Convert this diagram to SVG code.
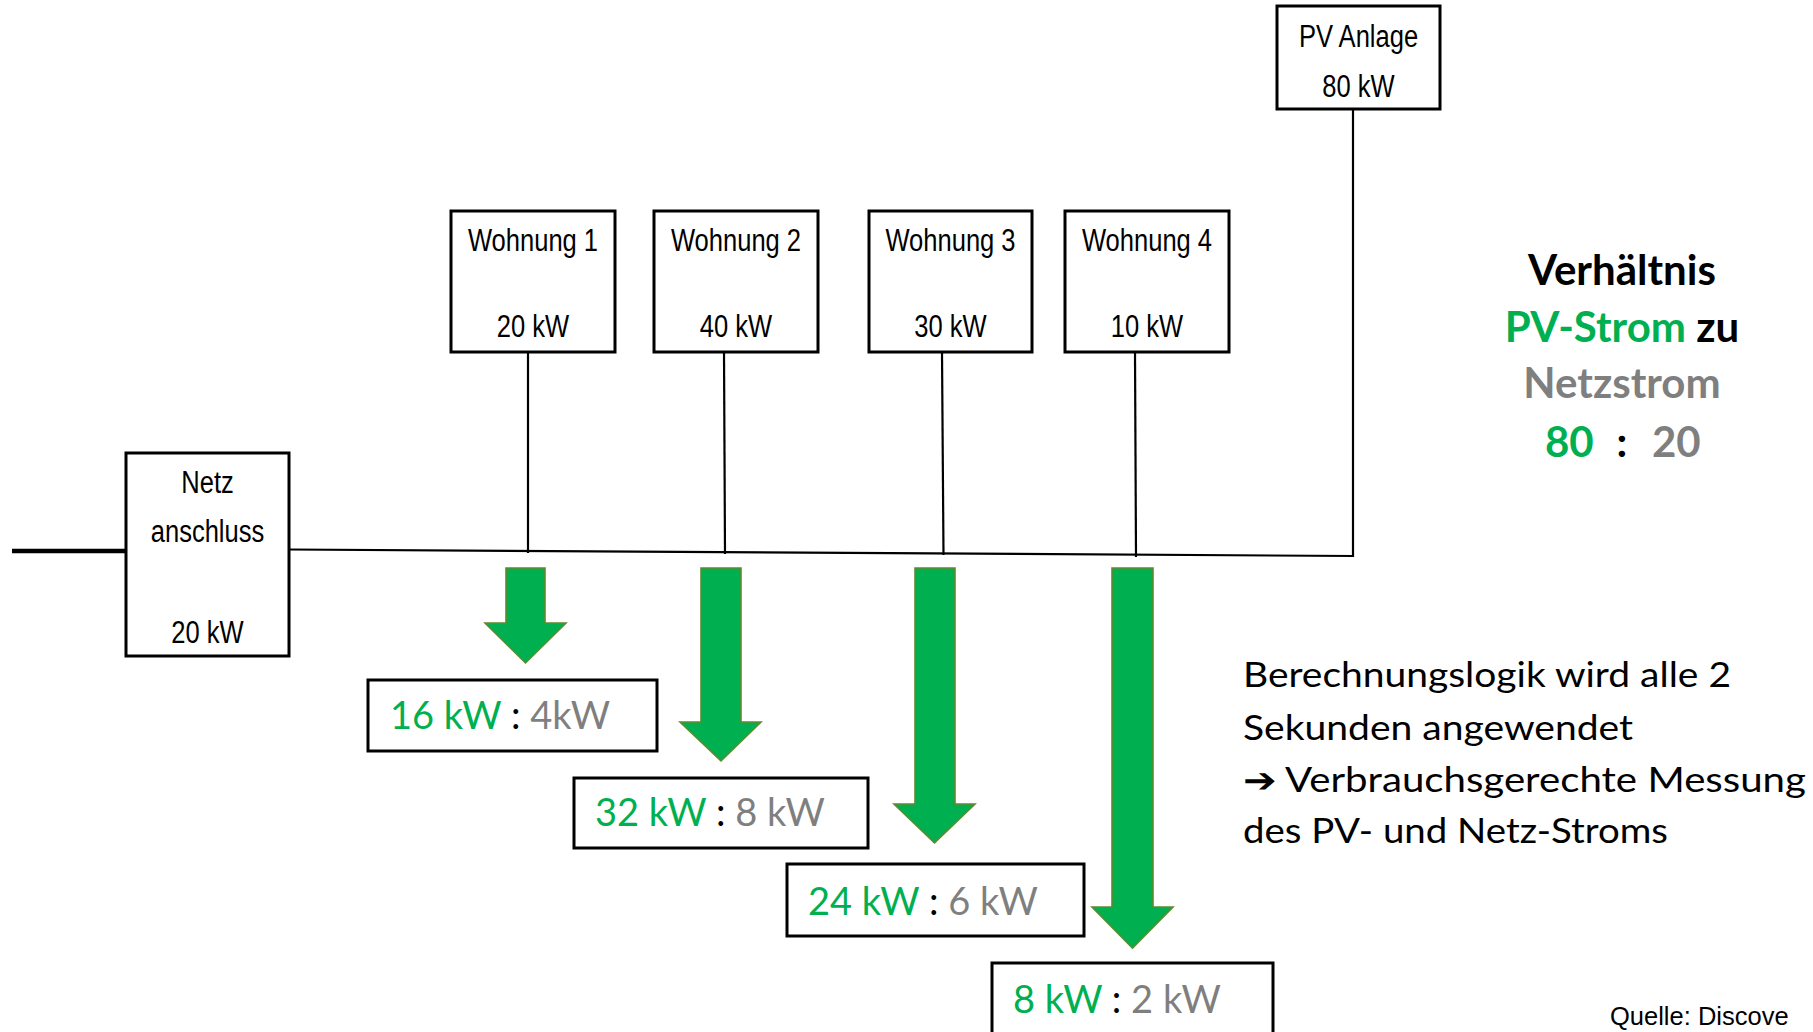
<svg xmlns="http://www.w3.org/2000/svg" width="1813" height="1032" viewBox="0 0 1813 1032">
  <style>
    .box { fill: #ffffff; stroke: #000000; stroke-width: 3; }
    .wire { stroke: #000000; stroke-width: 2.2; fill: none; }
    .feed { stroke: #000000; stroke-width: 4.5; fill: none; }
    .lbl { font-family: "Liberation Sans", Arial, sans-serif; font-size: 31px; fill: #000000; text-anchor: middle; }
    .flow { fill: #00B050; stroke: #5E8A2E; stroke-width: 1.6; stroke-linejoin: miter; }
    .res { font-family: Lato, "Open Sans", sans-serif; font-size: 38px; }
    .g { fill: #00B050; }
    .gr { fill: #7F7F7F; }
    .k { fill: #000000; }
    .ratio { font-family: Lato, "Open Sans", sans-serif; font-weight: bold; font-size: 42px; }
    .note { font-family: Lato, "Open Sans", sans-serif; font-size: 34px; fill: #000000; }
    .src { font-family: "Liberation Sans", Arial, sans-serif; font-size: 25.5px; fill: #000000; }
  </style>

  <!-- wiring: grid feed, busbar and drops -->
  <g id="connectors">
    <line class="feed" x1="12" y1="551" x2="126" y2="551"/>
    <line class="wire" x1="289" y1="549.5" x2="1354" y2="556"/>
    <line class="wire" x1="1353" y1="109" x2="1353" y2="557"/>
    <line class="wire" x1="528" y1="352" x2="528" y2="553"/>
    <line class="wire" x1="724" y1="352" x2="725" y2="554"/>
    <line class="wire" x1="942" y1="352" x2="943.5" y2="555"/>
    <line class="wire" x1="1135" y1="352" x2="1136" y2="557"/>
  </g>

  <!-- box captions use a horizontally condensed sans -->
  <g id="netzanschluss">
    <rect class="box" x="126" y="453" width="163" height="203"/>
    <g transform="translate(207.5 0) scale(0.824 1)">
      <text class="lbl" x="0" y="493">Netz</text>
      <text class="lbl" x="0" y="542">anschluss</text>
      <text class="lbl" x="0" y="643">20 kW</text>
    </g>
  </g>

  <g id="wohnung1">
    <rect class="box" x="451" y="211" width="164" height="141"/>
    <g transform="translate(533 0) scale(0.824 1)">
      <text class="lbl" x="0" y="251">Wohnung 1</text>
      <text class="lbl" x="0" y="337">20 kW</text>
    </g>
  </g>

  <g id="wohnung2">
    <rect class="box" x="654" y="211" width="164" height="141"/>
    <g transform="translate(736 0) scale(0.824 1)">
      <text class="lbl" x="0" y="251">Wohnung 2</text>
      <text class="lbl" x="0" y="337">40 kW</text>
    </g>
  </g>

  <g id="wohnung3">
    <rect class="box" x="869" y="211" width="163" height="141"/>
    <g transform="translate(950.5 0) scale(0.824 1)">
      <text class="lbl" x="0" y="251">Wohnung 3</text>
      <text class="lbl" x="0" y="337">30 kW</text>
    </g>
  </g>

  <g id="wohnung4">
    <rect class="box" x="1065" y="211" width="164" height="141"/>
    <g transform="translate(1147 0) scale(0.824 1)">
      <text class="lbl" x="0" y="251">Wohnung 4</text>
      <text class="lbl" x="0" y="337">10 kW</text>
    </g>
  </g>

  <g id="pv-anlage">
    <rect class="box" x="1277" y="6" width="163" height="103"/>
    <g transform="translate(1358.5 0) scale(0.824 1)">
      <text class="lbl" x="0" y="47">PV Anlage</text>
      <text class="lbl" x="0" y="97">80 kW</text>
    </g>
  </g>

  <!-- PV share flowing into each flat -->
  <g id="flows">
    <polygon class="flow" points="506,568 545,568 545,623 566,623 525.5,663 485,623 506,623"/>
    <polygon class="flow" points="701,568 741,568 741,722 761,722 721,761 680,722 701,722"/>
    <polygon class="flow" points="915,568 955,568 955,804 975,804 934.5,843 894,804 915,804"/>
    <polygon class="flow" points="1112,568 1153,568 1153,907 1173,907 1132.5,948 1092,907 1112,907"/>
  </g>

  <g id="split1">
    <rect class="box" x="368" y="680" width="289" height="71" stroke-width="2.6"/>
    <text class="res" x="390" y="729"><tspan class="g">16 kW</tspan><tspan class="k"> : </tspan><tspan class="gr">4kW</tspan></text>
  </g>
  <g id="split2">
    <rect class="box" x="574" y="778" width="294" height="70" stroke-width="2.6"/>
    <text class="res" x="595" y="826"><tspan class="g">32 kW</tspan><tspan class="k"> : </tspan><tspan class="gr">8 kW</tspan></text>
  </g>
  <g id="split3">
    <rect class="box" x="787" y="864" width="297" height="72" stroke-width="2.6"/>
    <text class="res" x="808" y="915"><tspan class="g">24 kW</tspan><tspan class="k"> : </tspan><tspan class="gr">6 kW</tspan></text>
  </g>
  <g id="split4">
    <rect class="box" x="992" y="963" width="281" height="90" stroke-width="2.6"/>
    <text class="res" x="1013" y="1013"><tspan class="g">8 kW</tspan><tspan class="k"> : </tspan><tspan class="gr">2 kW</tspan></text>
  </g>

  <g id="ratio">
    <text class="ratio k" x="1622" y="285" text-anchor="middle">Verhältnis</text>
    <text class="ratio" x="1622" y="342" text-anchor="middle"><tspan class="g">PV-Strom</tspan><tspan class="k"> zu</tspan></text>
    <text class="ratio gr" x="1622" y="398" text-anchor="middle">Netzstrom</text>
    <text class="ratio g" x="1545" y="457">80</text>
    <text class="ratio k" x="1622" y="457" text-anchor="middle">:</text>
    <text class="ratio gr" x="1652" y="457">20</text>
  </g>

  <g id="note">
    <text class="note" x="1243" y="687" textLength="488" lengthAdjust="spacingAndGlyphs">Berechnungslogik wird alle 2</text>
    <text class="note" x="1243" y="740" textLength="390" lengthAdjust="spacingAndGlyphs">Sekunden angewendet</text>
    <text class="note" x="1243" y="792" textLength="563" lengthAdjust="spacingAndGlyphs">➔ Verbrauchsgerechte Messung</text>
    <text class="note" x="1243" y="843" textLength="425" lengthAdjust="spacingAndGlyphs">des PV- und Netz-Stroms</text>
  </g>

  <text class="src" x="1610" y="1025">Quelle: Discove</text>
</svg>
